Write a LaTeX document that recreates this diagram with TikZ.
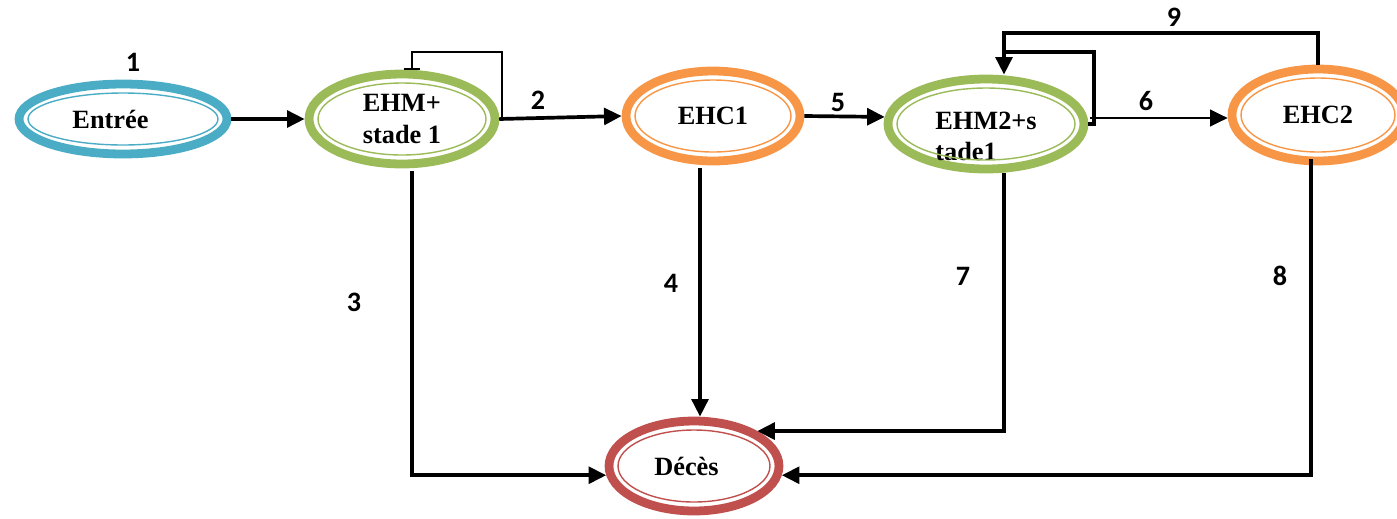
\documentclass[tikz,border=0pt]{standalone}
\usepackage{fontspec}
\setmainfont{Liberation Serif}
\newfontfamily\chiffres{Carlito}
\usetikzlibrary{shapes.geometric,arrows.meta,calc}
\definecolor{bleu}{HTML}{4BACC6}
\definecolor{vert}{HTML}{9BBB59}
\definecolor{orange}{HTML}{F79646}
\definecolor{rouge}{HTML}{C0504D}
\tikzset{
  etat/.style={ellipse, draw=#1, line width=5pt, inner sep=0pt, align=left,
    font=\fontsize{15}{18}\selectfont\bfseries},
  interieur/.style={ellipse, draw=#1, line width=0.8pt, inner sep=0pt},
  fleche/.style={line width=2.1pt, -{Triangle[length=10pt,width=9.5pt]}},
  fine/.style={line width=1.2pt, -{Triangle[length=10pt,width=9.5pt]}},
  numero/.style={font=\chiffres\fontsize{16}{17}\selectfont\bfseries}
}
\begin{document}
\begin{tikzpicture}[x=0.02cm,y=-0.02cm]
  \useasboundingbox (0,0) rectangle (1397,518);

  % etats
  \node[etat=bleu, minimum width=4.16cm, minimum height=1.40cm] (entree) at (123,119) {\hspace*{-0.5cm}Entrée};
  \node[interieur=bleu, minimum width=3.80cm, minimum height=1.04cm] (entreeI) at (entree) {};
  \node[etat=vert, minimum width=3.72cm, minimum height=1.80cm] (ehm) at (402,119) {EHM+\\stade 1};
  \node[interieur=vert, minimum width=3.36cm, minimum height=1.44cm] (ehmI) at (ehm) {};
  \node[etat=orange, minimum width=3.48cm, minimum height=1.80cm] (ehc1) at (713,116) {EHC1};
  \node[interieur=orange, minimum width=3.12cm, minimum height=1.44cm] (ehc1I) at (ehc1) {};
  \node[etat=vert, minimum width=3.92cm, minimum height=1.80cm,
    label={[align=left, font=\fontsize{15}{18}\selectfont\bfseries, yshift=-7pt]center:EHM2+s\\tade1}] (ehm2) at (986,124) {};
  \node[interieur=vert, minimum width=3.56cm, minimum height=1.44cm] (ehm2I) at (ehm2) {};
  \node[etat=orange, minimum width=3.44cm, minimum height=1.84cm] (ehc2) at (1318,115) {EHC2};
  \node[interieur=orange, minimum width=3.08cm, minimum height=1.48cm] (ehc2I) at (ehc2) {};
  \node[etat=rouge, minimum width=3.40cm, minimum height=1.80cm] (deces) at (694,466) {\hspace*{-0.3cm}Décès};
  \node[interieur=rouge, minimum width=3.04cm, minimum height=1.44cm] (decesI) at (deces) {};

  % coins des boucles
  \coordinate (b1) at (502,52);
  \coordinate (b2) at (1094,52);
  \coordinate (b3) at (1004,33);
  \coordinate (d6) at (1090,118);
  \coordinate (d4) at (700,168);

  % transitions
  \draw[fleche] (entree.east) -- (ehm.west);
  \draw[line width=0.8pt, -{Bar[width=9pt]}] (ehm.east) -| (b1) -| ($(ehm.north)+(10,0)$);
  \draw[fleche] (ehm.east) -- (ehc1.west);
  \draw[fleche] (ehc1.east) -- (ehm2.176);
  \draw[fine] (d6) -- (d6 -| ehc2.west);
  \draw[fleche] (ehm2.east) -| (b2) -| ($(ehm2.north)+(18,0)$);
  \draw[line width=2.1pt] (ehc2.north) |- (b3) -- (b3 |- b2);
  \draw[fleche] ($(ehm.south)+(10,3)$) |- (deces.186);
  \draw[fleche] (d4) -- (d4 |- deces.north);
  \draw[fleche] ($(ehm2.south)+(18,0)$) |- (deces.north east);
  \draw[fleche] ($(ehc2.south)+(-7,-6)$) |- (deces.-6);

  % numeros
  \node[numero] (n1) at (133,62) {1};
  \node[numero] (n2) at (538,100) {2};
  \node[numero] (n3) at (354,302) {3};
  \node[numero] (n4) at (671,283) {4};
  \node[numero] (n5) at (838,102) {5};
  \node[numero] (n6) at (1146,101) {6};
  \node[numero] (n7) at (963,276) {7};
  \node[numero] (n8) at (1280,276) {8};
  \node[numero] (n9) at (1174,17) {9};
\end{tikzpicture}
\end{document}
